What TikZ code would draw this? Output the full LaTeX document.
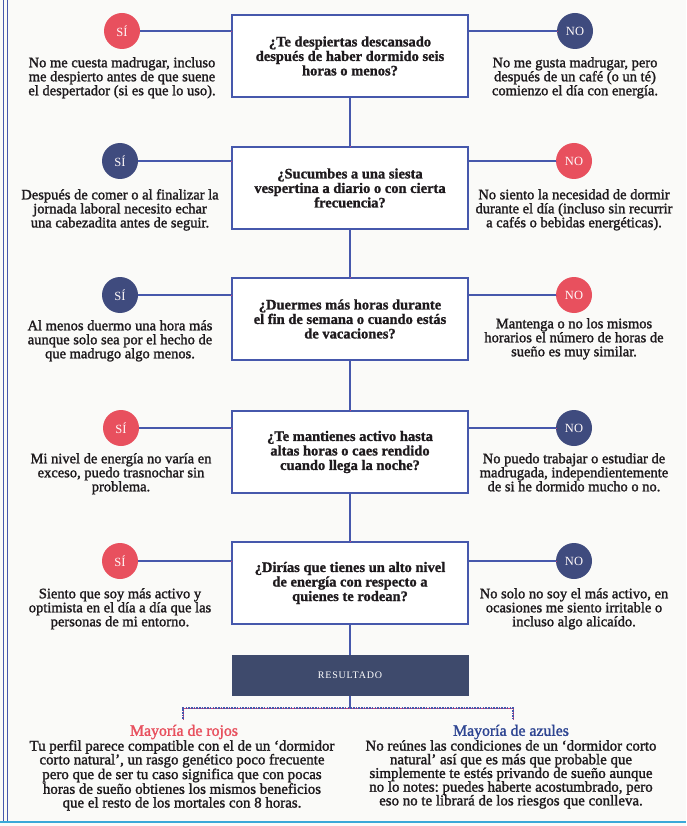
\documentclass[tikz,border=0pt]{standalone}
\usepackage{fontspec}
\setmainfont{Liberation Serif}
\newfontfamily\ansfont{Liberation Serif}[FakeBold=1.6]
\newfontfamily\qfont{Liberation Serif}[UprightFont=*-Bold,FakeBold=1.2]
\frenchspacing
\definecolor{redc}{HTML}{E8505E}
\definecolor{bluec}{HTML}{3F4B7E}
\definecolor{linec}{HTML}{4658AC}
\definecolor{magc}{HTML}{C4407E}
\definecolor{cyanc}{HTML}{3AA8D8}
\definecolor{navyc}{HTML}{3E4A6C}
\definecolor{inkc}{HTML}{1E1A1D}
\definecolor{paperc}{HTML}{FAFAF8}
\definecolor{headblue}{HTML}{2E4592}
\tikzset{
  qbox/.style={draw=linec, line width=1.1pt, fill=white, minimum width=236pt, minimum height=82pt,
    align=center, text=inkc, inner sep=2pt, font={\qfont\fontsize{14.5}{14.5}\selectfont},
    preaction={draw=magc, line width=1.1pt, transform canvas={shift={(0.8pt,-0.9pt)}}}},
  conn/.style={draw=linec, line width=1.1pt,
    preaction={draw=magc, line width=1.1pt, transform canvas={shift={(0.8pt,-0.9pt)}}}},
  dashconn/.style={conn, dash pattern=on 1.6pt off 1.1pt},
  circ/.style={circle, minimum size=36pt, inner sep=0pt, text=white!90!pink,
    font={\fontsize{12.5}{12.5}\selectfont}},
  redcirc/.style={circ, fill=redc},
  bluecirc/.style={circ, fill=bluec},
  ans/.style={align=center, anchor=north, inner sep=0pt, text=inkc,
    font={\ansfont\fontsize{14.5}{14}\selectfont}},
  restext/.style={align=center, anchor=north, inner sep=0pt, text=inkc,
    font={\ansfont\fontsize{14.9}{13.7}\selectfont}},
  head/.style={inner sep=0pt, font={\ansfont\fontsize{15.8}{14}\selectfont}},
  resbox/.style={fill=navyc, draw=navyc, line width=1pt, minimum width=236pt, minimum height=40pt,
    text=white, font={\fontsize{10}{10}\selectfont\addfontfeature{LetterSpace=8}},
    preaction={draw=magc, line width=1.1pt, transform canvas={shift={(0.6pt,-0.9pt)}}}}
}
\begin{document}
\begin{tikzpicture}[x=1pt,y=-1pt]
\useasboundingbox[fill=paperc] (0,0) rectangle (686,826);
% page borders
\draw[linec, line width=1pt] (3,0) -- (3,822);
\draw[linec, line width=1pt] (7,0) -- (7,822);
\draw[cyanc, line width=2pt] (0,822) -- (686,822);

% questions
\node[qbox] (q1) at (350,56) {¿Te despiertas descansado\\después de haber dormido seis\\horas o menos?};
\node[qbox] (q2) at (350,188) {¿Sucumbes a una siesta\\vespertina a diario o con cierta\\frecuencia?};
\node[qbox] (q3) at (350,319) {¿Duermes más horas durante\\el fin de semana o cuando estás\\de vacaciones?};
\node[qbox] (q4) at (350,452) {¿Te mantienes activo hasta\\altas horas o caes rendido\\cuando llega la noche?};
\node[qbox] (q5) at (350,583) {¿Dirías que tienes un alto nivel\\de energía con respecto a\\quienes te rodean?};
\node[resbox] (res) at (350,675) {RESULTADO};

% circles
\node[redcirc]  (s1) at (122,31) {SÍ};
\node[bluecirc] (n1) at (575,31) {NO};
\node[bluecirc] (s2) at (120,161) {SÍ};
\node[redcirc]  (n2) at (574,161) {NO};
\node[bluecirc] (s3) at (120,295) {SÍ};
\node[redcirc]  (n3) at (574,295) {NO};
\node[redcirc]  (s4) at (121,428) {SÍ};
\node[bluecirc] (n4) at (574,428) {NO};
\node[redcirc]  (s5) at (120,561) {SÍ};
\node[bluecirc] (n5) at (574,561) {NO};

% answers
\node[ans] (a1l) at (122,57) {No me cuesta madrugar, incluso\\me despierto antes de que suene\\el despertador (si es que lo uso).};
\node[ans] (a1r) at (575,57) {No me gusta madrugar, pero\\después de un café (o un té)\\comienzo el día con energía.};
\node[ans] (a2l) at (120,189) {Después de comer o al finalizar la\\jornada laboral necesito echar\\una cabezadita antes de seguir.};
\node[ans] (a2r) at (574,189) {No siento la necesidad de dormir\\durante el día (incluso sin recurrir\\a cafés o bebidas energéticas).};
\node[ans] (a3l) at (120,320) {Al menos duermo una hora más\\aunque solo sea por el hecho de\\que madrugo algo menos.};
\node[ans] (a3r) at (574,318) {Mantenga o no los mismos\\horarios el número de horas de\\sueño es muy similar.};
\node[ans] (a4l) at (121,453) {Mi nivel de energía no varía en\\exceso, puedo trasnochar sin\\problema.};
\node[ans] (a4r) at (574,453) {No puedo trabajar o estudiar de\\madrugada, independientemente\\de si he dormido mucho o no.};
\node[ans] (a5l) at (120,588) {Siento que soy más activo y\\optimista en el día a día que las\\personas de mi entorno.};
\node[ans] (a5r) at (574,588) {No solo no soy el más activo, en\\ocasiones me siento irritable o\\incluso algo alicaído.};

% horizontal connectors
\foreach \i in {1,...,5}{
  \draw[conn] (s\i.east) -- (s\i -| q\i.west);
  \draw[conn] (n\i.west) -- (n\i -| q\i.east);
}
% vertical connectors
\draw[conn] (q1.south) -- (q2.north);
\draw[conn] (q2.south) -- (q3.north);
\draw[conn] (q3.south) -- (q4.north);
\draw[conn] (q4.south) -- (q5.north);
\draw[conn] (q5.south) -- (res.north);

% result split
\coordinate (dj) at (350,708);
\coordinate (dl) at (183,708);
\coordinate (dr) at (513,708);
\coordinate (dlb) at (183,719);
\coordinate (drb) at (513,719);
\draw[conn] (res.south) -- (dj);
\draw[dashconn] (dlb) -- (dl) -- (dr) -- (drb);

\node[head, text=redc] (hr) at (184,732) {Mayoría de rojos};
\node[head, text=headblue] (hb) at (511,732) {Mayoría de azules};
\node[restext] (pr) at (182,740) {Tu perfil parece compatible con el de un ‘dormidor\\corto natural’, un rasgo genético poco frecuente\\pero que de ser tu caso significa que con pocas\\horas de sueño obtienes los mismos beneficios\\que el resto de los mortales con 8 horas.};
\node[restext] (pb) at (511,740) {No reúnes las condiciones de un ‘dormidor corto\\natural’ así que es más que probable que\\simplemente te estés privando de sueño aunque\\no lo notes: puedes haberte acostumbrado, pero\\eso no te librará de los riesgos que conlleva.};
\end{tikzpicture}
\end{document}
